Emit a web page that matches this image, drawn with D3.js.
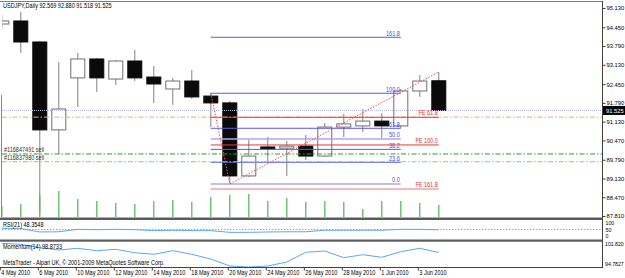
<!DOCTYPE html>
<html>
<head>
<meta charset="utf-8">
<script src="https://cdnjs.cloudflare.com/ajax/libs/d3/7.8.5/d3.min.js"></script>
<style>
body { margin: 0; background: #fff; }
svg { display: block; }
svg text { font-family: "Liberation Sans", Arial, sans-serif; font-size: 6.5px; }
svg .ax text { font-size: 5.8px; }
svg .ax.small text { font-size: 5.2px; }
</style>
</head>
<body>
<div id="chart"></div>
<script>
// daily bars, USDJPY
const dates = ["2010-05-04","2010-05-05","2010-05-06","2010-05-07","2010-05-10","2010-05-11","2010-05-12","2010-05-13","2010-05-14","2010-05-17","2010-05-18","2010-05-19","2010-05-20","2010-05-21","2010-05-24","2010-05-25","2010-05-26","2010-05-27","2010-05-28","2010-05-31","2010-06-01","2010-06-02","2010-06-03","2010-06-04"];
const opens  = [94.567,94.673,93.934,90.840,92.670,93.336,92.630,93.265,92.700,92.280,92.560,92.030,91.790,89.220,90.240,90.200,90.270,89.920,90.940,90.980,91.150,90.980,92.210,92.569];
const highs  = [94.880,94.990,93.970,93.230,93.547,93.371,93.300,93.652,93.090,92.667,92.950,92.140,91.860,90.490,90.590,90.450,90.660,91.080,91.400,91.580,91.430,92.280,92.770,92.880];
const lows   = [94.356,93.547,87.950,89.990,91.647,92.170,92.420,92.560,91.790,91.720,91.930,90.940,88.940,89.180,89.680,89.220,89.780,89.890,90.590,90.770,90.560,90.910,92.000,91.518];
const closes = [94.673,93.934,90.840,91.576,93.336,92.670,93.265,92.670,92.456,92.560,92.000,91.790,89.220,89.920,90.170,90.270,89.920,90.940,91.050,91.150,90.980,92.210,92.560,91.525];
const volumes = [11000,13000,22000,26000,18000,16000,14000,13000,16000,17000,15000,20000,22000,23000,16000,19000,15000,16000,15000,8000,16000,16000,14000,12000];
const rsi = [56,55,37,38,51,49,51,49,44,46,44,44,35,35,37,38,38,46,46,46,46,51,51,48.3548];
const momentum = [101.45,101.17,100.22,99.57,100.05,99.37,99.77,98.81,98.36,99.37,98.36,97.03,95.06,94.7827,95.06,96.19,98.92,99.29,97.40,98.25,97.51,99.09,100.05,98.8733];

// axis ticks
const priceTicks = [95.130,94.450,93.790,93.130,92.450,91.790,91.130,90.470,89.790,89.130,88.470,87.810];
const dateTicks = ["2010-05-04","2010-05-06","2010-05-10","2010-05-12","2010-05-14","2010-05-18","2010-05-20","2010-05-24","2010-05-26","2010-05-28","2010-06-01","2010-06-03"];
const dateTickLabels = ["4 May 2010","6 May 2010","10 May 2010","12 May 2010","14 May 2010","18 May 2010","20 May 2010","24 May 2010","26 May 2010","28 May 2010","1 Jun 2010","3 Jun 2010"];
const rsiTicks = [100, 50, 0];
const momTicks = [101.820, 94.7827];
const momTickLabels = ["101.820", "94.7827"];

// chart objects
const fiboLabels = ["161.8","100.0","61.8","50.0","38.2","23.6","0.0"];
const fiboPrices = [94.099,92.130,90.897,90.520,90.155,89.700,88.937];
const feLabels = ["FE 61.8","FE 100.0","FE 161.8"];
const fePrices = [91.284,90.310,88.760];
const zigzagDates = ["2010-05-19","2010-05-20","2010-06-04"];
const zigzagPrices = [92.130,88.937,92.880];
const orderLabels = ["#116847491 sell","#116837980 sell"];
const orderPrices = [89.993,89.720];
const stopPrice = 91.290;
const bidPrice = 91.525;

const W = 625, H = 278;
const left = 2, right = 602.5, mainTop = 2, mainBottom = 217;

const svg = d3.select("#chart").append("svg")
    .attr("width", W)
    .attr("height", H);

// scales
const x = d3.scalePoint().domain(dates).range([1.8, 1.8 + 19 * (dates.length - 1)]);
const y = d3.scaleLinear().domain([87.81, 95.13]).range([216, 8]);
const vh = d3.scaleLinear().domain([0, d3.max(volumes)]).range([0, 26]);
const ry = d3.scaleLinear().domain([0, 100]).range([239, 220]);
const my = d3.scaleLinear().domain([94.7827, 101.82]).range([267, 242]);

svg.append("clipPath").attr("id", "mainclip")
  .append("rect").attr("x", left).attr("y", mainTop).attr("width", right - left).attr("height", mainBottom - mainTop);
svg.append("clipPath").attr("id", "subclip")
  .append("rect").attr("x", 0).attr("y", 219).attr("width", right).attr("height", 49);

const main = svg.append("g").attr("clip-path", "url(#mainclip)");

// candles
const bars = dates.map((d, i) => ({ d, o: opens[i], h: highs[i], l: lows[i], c: closes[i], v: volumes[i] }));

main.selectAll(".wick").data(bars).enter().append("line")
    .attr("x1", b => x(b.d)).attr("x2", b => x(b.d))
    .attr("y1", b => y(b.h)).attr("y2", b => y(b.l))
    .attr("stroke", "#808080").attr("stroke-width", 1);

main.selectAll(".body").data(bars).enter().append("rect")
    .attr("x", b => x(b.d) - 7)
    .attr("y", b => y(Math.max(b.o, b.c)))
    .attr("width", 14)
    .attr("height", b => Math.max(1, Math.abs(y(b.o) - y(b.c))))
    .attr("fill", b => b.c >= b.o ? "#fff" : "#0a0a0a")
    .attr("stroke", b => b.c >= b.o ? "#6e6e6e" : "#0a0a0a")
    .attr("stroke-width", 1);

// volumes
main.selectAll(".vol").data(bars).enter().append("line")
    .attr("x1", b => x(b.d)).attr("x2", b => x(b.d))
    .attr("y1", mainBottom).attr("y2", b => mainBottom - vh(b.v))
    .attr("stroke", "#5cb85c").attr("stroke-width", 1.3);

// full-width horizontal lines
function hline(price, color, dash, width) {
  main.append("line")
    .attr("x1", left).attr("x2", right)
    .attr("y1", y(price)).attr("y2", y(price))
    .attr("stroke", color).attr("stroke-width", width || 1)
    .attr("stroke-dasharray", dash);
}
hline(bidPrice, "#b4b8dc", "1,1");
hline(stopPrice, "#f2a488", "5,2,1.5,2");

// fibo retracement
const fx1 = x("2010-05-19"), fx2 = x("2010-06-02");
fiboLabels.forEach((lab, i) => {
  const light = lab === "50.0" || lab === "0.0";
  main.append("line")
    .attr("x1", fx1).attr("x2", fx2)
    .attr("y1", y(fiboPrices[i])).attr("y2", y(fiboPrices[i]))
    .attr("stroke", light ? "#a9a9f2" : "#5858ec")
    .attr("stroke-width", light ? 1.6 : 1);
  main.append("text")
    .attr("x", fx2 - 1).attr("y", y(fiboPrices[i]) - 1.5)
    .attr("text-anchor", "end").attr("fill", "#4848e8")
    .text(lab);
});

// fibo expansion
const ex2 = x("2010-06-04");
feLabels.forEach((lab, i) => {
  main.append("line")
    .attr("x1", fx1).attr("x2", ex2)
    .attr("y1", y(fePrices[i])).attr("y2", y(fePrices[i]))
    .attr("stroke", i === 2 ? "#f4a0a0" : "#e83a3a")
    .attr("stroke-width", i === 2 ? 1.5 : 1);
  main.append("text")
    .attr("x", ex2 - 1).attr("y", y(fePrices[i]) - 1.8)
    .attr("text-anchor", "end").attr("fill", "#e83030")
    .text(lab);
});

// order lines
orderLabels.forEach((lab, i) => {
  hline(orderPrices[i], i === 0 ? "#2f9e2f" : "#84d084", "5,2,1.5,2");
  main.append("text")
    .attr("x", 4).attr("y", y(orderPrices[i]) - 1.6)
    .attr("fill", "#303030")
    .text(lab);
});

// zigzag trend line
main.append("path")
    .datum(zigzagDates.map((d, i) => [x(d), y(zigzagPrices[i])]))
    .attr("d", d3.line())
    .attr("fill", "none").attr("stroke", "#ff4a4a")
    .attr("stroke-width", 1).attr("stroke-dasharray", "1.5,1.5");

// title
svg.append("text").attr("x", 3).attr("y", 7.5).attr("fill", "#000")
    .text(`USDJPY,Daily ${opens[23].toFixed(3)} ${highs[23].toFixed(3)} ${lows[23].toFixed(3)} ${closes[23].toFixed(3)}`);

// sub windows
const sub = svg.append("g").attr("clip-path", "url(#subclip)");
sub.append("line")
    .attr("x1", left).attr("x2", right).attr("y1", ry(50)).attr("y2", ry(50))
    .attr("stroke", "#a8a8a8").attr("stroke-dasharray", "1.5,1.5");
sub.append("path")
    .datum(dates.map((d, i) => [x(d), ry(rsi[i])]))
    .attr("d", d3.line())
    .attr("fill", "none").attr("stroke", "#5aa8f2").attr("stroke-width", 1);
sub.append("path")
    .datum(dates.map((d, i) => [x(d), my(momentum[i])]))
    .attr("d", d3.line())
    .attr("fill", "none").attr("stroke", "#5aa8f2").attr("stroke-width", 1);

svg.append("text").attr("x", 3).attr("y", 227).attr("fill", "#000")
    .text(`RSI(21) ${rsi[23].toFixed(4)}`);
svg.append("text").attr("x", 3).attr("y", 249.3).attr("fill", "#000")
    .text(`Momentum(14) ${momentum[23].toFixed(4)}`);
svg.append("text").attr("x", 3).attr("y", 265).attr("fill", "#000")
    .text("MetaTrader - Alpari UK, \u00a9 2001-2009 MetaQuotes Software Corp.");

// frame and separators
svg.append("line").attr("x1", 0).attr("x2", right).attr("y1", 1.5).attr("y2", 1.5).attr("stroke", "#7a7a7a");
svg.append("line").attr("x1", right).attr("x2", right).attr("y1", 1).attr("y2", 268).attr("stroke", "#404040");
svg.append("line").attr("x1", 1.5).attr("x2", 1.5).attr("y1", 95).attr("y2", 217).attr("stroke", "#8a8a8a");
svg.append("rect").attr("x", 0).attr("y", 217.5).attr("width", right).attr("height", 2.5).attr("fill", "#5c5c5c");
svg.append("rect").attr("x", 0).attr("y", 239.5).attr("width", right).attr("height", 2.2).attr("fill", "#5c5c5c");
svg.append("line").attr("x1", 0).attr("x2", right).attr("y1", 267.5).attr("y2", 267.5).attr("stroke", "#404040");

// date axis
const dAxis = svg.append("g")
    .attr("transform", "translate(0,267.5)")
    .call(d3.axisBottom(x).tickValues(dateTicks).tickFormat((d, i) => dateTickLabels[i]).tickSize(3));
dAxis.select(".domain").remove();
dAxis.attr("font-size", null).attr("font-family", null);
dAxis.selectAll("line").attr("x1", -2).attr("x2", -2).attr("stroke", "#404040");
dAxis.selectAll("text").attr("text-anchor", "start").attr("x", -1).attr("dy", null).attr("y", 7.6);

// squeeze text horizontally to the narrow terminal font
svg.selectAll("text")
    .attr("lengthAdjust", "spacingAndGlyphs")
    .each(function () {
      const w = this.getComputedTextLength();
      if (w > 0) this.setAttribute("textLength", (w * 0.85).toFixed(1));
    });

// right-hand scales (plain small text)
const pAxis = svg.append("g")
    .attr("class", "ax")
    .attr("transform", `translate(${right},0)`)
    .call(d3.axisRight(y).tickValues(priceTicks).tickFormat(d3.format(".3f")).tickSize(3).tickPadding(1));
pAxis.select(".domain").remove();
pAxis.attr("font-size", null).attr("font-family", null);
pAxis.selectAll("line").attr("stroke", "#404040");

const bidBox = svg.append("g").attr("class", "ax");
bidBox.append("rect").attr("x", right + 0.5).attr("y", y(bidPrice) - 4.5)
    .attr("width", 22).attr("height", 9).attr("fill", "#000");
bidBox.append("text").attr("x", right + 3.5).attr("y", y(bidPrice) + 2.1)
    .attr("fill", "#fff").text(bidPrice.toFixed(3));

const rAxis = svg.append("g")
    .attr("class", "ax small")
    .attr("transform", `translate(${right},0)`)
    .call(d3.axisRight(ry).tickValues(rsiTicks).tickSize(0).tickPadding(3));
rAxis.select(".domain").remove();
rAxis.attr("font-size", null).attr("font-family", null);
rAxis.selectAll("text").attr("y", d => d === 100 ? 3 : d === 0 ? -3.2 : 0.6);

const mAxis = svg.append("g")
    .attr("class", "ax small")
    .attr("transform", `translate(${right},0)`)
    .call(d3.axisRight(my).tickValues(momTicks).tickFormat((d, i) => momTickLabels[i]).tickSize(0).tickPadding(2.5));
mAxis.select(".domain").remove();
mAxis.attr("font-size", null).attr("font-family", null);
mAxis.selectAll("text").attr("y", (d, i) => i === 0 ? 2.3 : -3);
</script>
</body>
</html>
